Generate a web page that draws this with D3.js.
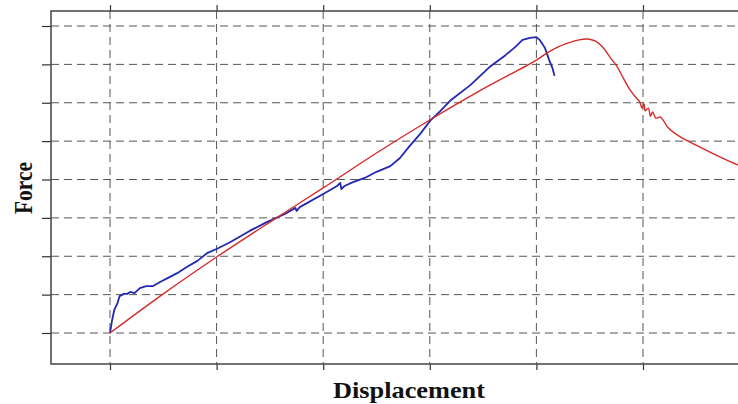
<!DOCTYPE html>
<html>
<head>
<meta charset="utf-8">
<script src="https://cdn.jsdelivr.net/npm/d3@7"></script>
<style>
  body { margin: 0; background: #fff; }
  .axis-title { font-family: "Liberation Serif", "DejaVu Serif", serif; font-weight: bold; fill: #111; }
</style>
</head>
<body>
<div id="chart"></div>
<script>
// tick positions (no labels shown on the original)
const xTicks = [0, 1, 2, 3, 4, 5, 6]
const yTicks = [0, 1, 2, 3, 4, 5, 6, 7, 8]

// blue curve
const blueX = [0.00, 0.02, 0.04, 0.07, 0.09, 0.13, 0.16, 0.19, 0.23, 0.28, 0.34, 0.40, 0.47, 0.54, 0.63, 0.72, 0.82, 0.91, 1.00,
               1.13, 1.31, 1.47, 1.64, 1.74, 1.75, 1.78, 2.00, 2.13, 2.16, 2.17, 2.20, 2.28, 2.39, 2.50, 2.63, 2.72, 2.81, 2.91,
               3.00, 3.10, 3.19, 3.38, 3.56, 3.71, 3.80, 3.87, 3.94, 4.00, 4.03, 4.08, 4.12, 4.15, 4.17]
const blueY = [0.00, 0.34, 0.60, 0.78, 0.96, 1.02, 1.02, 1.07, 1.04, 1.17, 1.22, 1.22, 1.33, 1.43, 1.56, 1.72, 1.88, 2.08, 2.19,
               2.37, 2.66, 2.89, 3.10, 3.26, 3.18, 3.28, 3.62, 3.83, 3.91, 3.75, 3.83, 3.93, 4.04, 4.20, 4.35, 4.56, 4.87, 5.19,
               5.52, 5.79, 6.05, 6.46, 6.93, 7.24, 7.45, 7.64, 7.69, 7.71, 7.64, 7.43, 7.11, 6.91, 6.70]

// red curve
const redX = [0.00, 0.50, 1.00, 1.50, 2.00, 2.50, 3.00, 3.50, 4.00, 4.10, 4.20, 4.30, 4.40, 4.48, 4.55, 4.62, 4.69, 4.76, 4.81, 4.88,
              4.93, 4.97, 4.99, 5.01, 5.02, 5.05, 5.07, 5.09, 5.12, 5.16, 5.20, 5.23, 5.35, 5.53, 5.72, 5.89, 5.95]
const redY = [0.00, 1.02, 1.98, 2.89, 3.78, 4.69, 5.55, 6.36, 7.11, 7.30, 7.45, 7.56, 7.64, 7.66, 7.61, 7.45, 7.19, 6.93, 6.67, 6.33,
              6.15, 6.02, 5.86, 5.97, 5.79, 5.86, 5.65, 5.76, 5.60, 5.63, 5.50, 5.37, 5.11, 4.85, 4.59, 4.38, 4.33]

const width = 738
const height = 404
const plotLeft = 51, plotTop = 11, plotBottom = 364

const svg = d3.select("#chart").append("svg")
    .attr("width", width)
    .attr("height", height)

const x = d3.scaleLinear().domain([0, 6]).range([110, 110 + 6 * 106.6])
const y = d3.scaleLinear().domain([0, 8]).range([333, 26])

// dashed grid
svg.append("g")
    .selectAll("line")
    .data(yTicks)
    .enter()
    .append("line")
    .attr("x1", plotLeft).attr("x2", width)
    .attr("y1", d => y(d)).attr("y2", d => y(d))
    .attr("stroke", "#555")
    .attr("stroke-width", 1)
    .attr("stroke-dasharray", "8,5")

svg.append("g")
    .selectAll("line")
    .data(xTicks)
    .enter()
    .append("line")
    .attr("x1", d => x(d)).attr("x2", d => x(d))
    .attr("y1", plotTop).attr("y2", plotBottom)
    .attr("stroke", "#555")
    .attr("stroke-width", 1)
    .attr("stroke-dasharray", "8,5")

// axes, only the tick marks
svg.append("g").attr("transform", `translate(0,${plotBottom})`)
    .call(d3.axisBottom(x).tickValues(xTicks).tickSize(6).tickFormat(""))
svg.append("g").attr("transform", `translate(0,${plotTop})`)
    .call(d3.axisTop(x).tickValues(xTicks).tickSize(6).tickFormat(""))
svg.append("g").attr("transform", `translate(${plotLeft},0)`)
    .call(d3.axisLeft(y).tickValues(yTicks).tickSize(9).tickFormat(""))
svg.selectAll(".domain").remove()
svg.selectAll(".tick line").attr("stroke", "#333").attr("stroke-width", 1.2)

// frame
svg.append("path")
    .attr("d", `M${width},${plotTop}H${plotLeft}V${plotBottom}H${width}`)
    .attr("fill", "none")
    .attr("stroke", "#444")
    .attr("stroke-width", 1.5)

// curves
const line = d3.line()
    .x(d => x(d[0]))
    .y(d => y(d[1]))

svg.append("path")
    .datum(d3.zip(blueX, blueY))
    .attr("d", line)
    .attr("fill", "none")
    .attr("stroke", "#2229b0")
    .attr("stroke-width", 1.8)
    .attr("stroke-linejoin", "round")

svg.append("path")
    .datum(d3.zip(redX, redY))
    .attr("d", line.curve(d3.curveCatmullRom.alpha(0.5)))
    .attr("fill", "none")
    .attr("stroke", "#d42a2a")
    .attr("stroke-width", 1.4)
    .attr("stroke-linejoin", "round")

// axis titles
svg.append("text")
    .attr("class", "axis-title")
    .attr("x", 409)
    .attr("y", 398)
    .attr("text-anchor", "middle")
    .attr("font-size", 24)
    .attr("textLength", 152)
    .attr("lengthAdjust", "spacingAndGlyphs")
    .text("Displacement")

svg.append("text")
    .attr("class", "axis-title")
    .attr("transform", "translate(32,188) rotate(-90)")
    .attr("text-anchor", "middle")
    .attr("font-size", 25)
    .attr("textLength", 52)
    .attr("lengthAdjust", "spacingAndGlyphs")
    .text("Force")
</script>
</body>
</html>
